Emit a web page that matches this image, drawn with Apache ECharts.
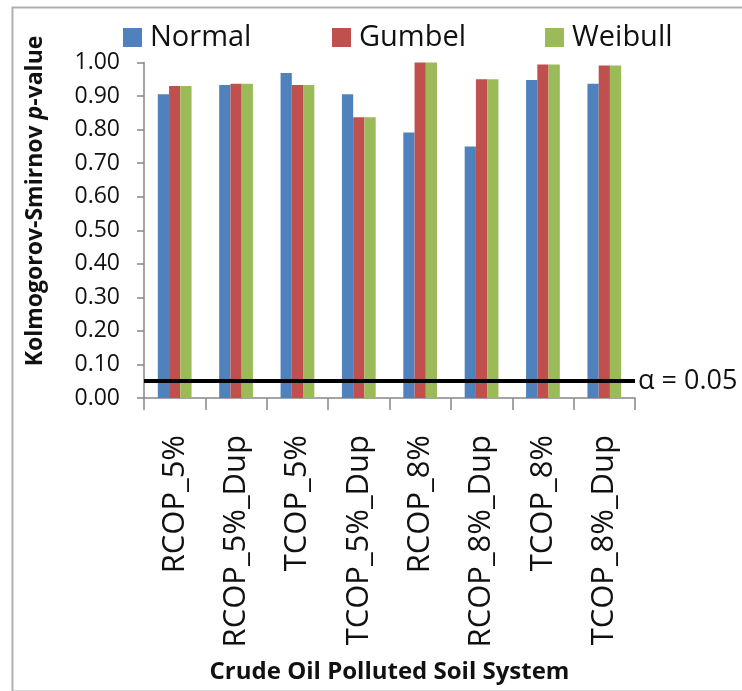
<!DOCTYPE html>
<html>
<head>
<meta charset="utf-8">
<script src="https://cdn.jsdelivr.net/npm/echarts@6/dist/echarts.min.js"></script>
<style>
html,body{margin:0;padding:0;background:#fff;}
#chart{width:742px;height:691px;}
</style>
</head>
<body>
<div id="chart"></div>
<script>
var categories = ['RCOP_5%','RCOP_5%_Dup','TCOP_5%','TCOP_5%_Dup','RCOP_8%','RCOP_8%_Dup','TCOP_8%','TCOP_8%_Dup'];
var normalValues  = [0.905, 0.933, 0.969, 0.905, 0.791, 0.750, 0.948, 0.937];
var gumbelValues  = [0.930, 0.937, 0.933, 0.837, 1.000, 0.950, 0.994, 0.991];
var weibullValues = [0.930, 0.937, 0.933, 0.837, 1.000, 0.950, 0.994, 0.991];
var seriesNames = ['Normal','Gumbel','Weibull'];
var alphaValue = 0.05;
var alphaLabel = 'α = 0.05';
var yTitle = 'Kolmogorov-Smirnov p-value';
var xTitle = 'Crude Oil Polluted Soil System';

var FONT = '"Open Sans", "Liberation Sans", sans-serif';
var colors = ['#4F81BD', '#C0504D', '#9BBB59'];
var chart = echarts.init(document.getElementById('chart'), null, {renderer: 'canvas'});

function legendAt(name, left) {
  return {
    data: [name], left: left, top: 23, itemWidth: 19, itemHeight: 19, itemGap: 0,
    icon: 'rect', padding: 0,
    textStyle: {fontFamily: FONT, fontSize: 29, color: '#111', padding: [0, 0, 0, 3]}
  };
}

var option = {
  backgroundColor: '#fff',
  color: colors,
  animation: false,
  legend: [legendAt(seriesNames[0], 123), legendAt(seriesNames[1], 332), legendAt(seriesNames[2], 545)],
  grid: {left: 144, right: 107, top: 62.5, bottom: 293, containLabel: false, outerBoundsMode: 'none'},
  xAxis: {
    type: 'category', data: categories, boundaryGap: true,
    axisLine: {lineStyle: {color: '#868686', width: 1.5}},
    axisTick: {show: true, length: 12, lineStyle: {color: '#868686', width: 1.5}},
    axisLabel: {rotate: 90, margin: 37, fontFamily: FONT, fontSize: 31, color: '#111', interval: 0},
    name: xTitle, nameLocation: 'middle', nameGap: 262,
    nameTextStyle: {fontFamily: FONT, fontSize: 24, fontWeight: 'bold', color: '#111'}
  },
  yAxis: {
    type: 'value', min: 0, max: 1, interval: 0.1,
    axisLine: {show: true, lineStyle: {color: '#868686', width: 1.5}},
    axisTick: {show: true, length: 7, lineStyle: {color: '#868686', width: 1.5}},
    splitLine: {show: false},
    axisLabel: {margin: 24, fontFamily: FONT, fontSize: 23, color: '#111',
      formatter: function (v) { return v.toFixed(2); }}
  },
  series: [
    {name: seriesNames[0], type: 'bar', data: normalValues, barGap: '0%', barCategoryGap: '45%',
      markLine: {
        symbol: 'none', silent: true, animation: false,
        data: [{yAxis: alphaValue}],
        lineStyle: {color: '#000', width: 4, type: 'solid'},
        label: {show: true, position: 'end', distance: 3, formatter: alphaLabel,
          fontFamily: FONT, fontSize: 27, color: '#111'}
      }, z: 2},
    {name: seriesNames[1], type: 'bar', data: gumbelValues, barGap: '0%', barCategoryGap: '45%', z: 2},
    {name: seriesNames[2], type: 'bar', data: weibullValues, barGap: '0%', barCategoryGap: '45%', z: 2}
  ],
  graphic: [
    {type: 'rect', left: 10, top: 5, z: -10, silent: true,
      shape: {width: 760, height: 684},
      style: {fill: 'none', stroke: '#b0b0b0', lineWidth: 2}},
    {type: 'text', x: 35, y: 201, rotation: Math.PI / 2, silent: true,
      style: {
        text: '{b|Kolmogorov-Smirnov }{i|p}{b|-value}',
        align: 'center', verticalAlign: 'middle',
        rich: {
          b: {fontFamily: FONT, fontSize: 23, fontWeight: 'bold', fill: '#111'},
          i: {fontFamily: FONT, fontSize: 23, fontWeight: 'bold', fontStyle: 'italic', fill: '#111'}
        }
      }}
  ]
};
chart.setOption(option);
</script>
</body>
</html>
